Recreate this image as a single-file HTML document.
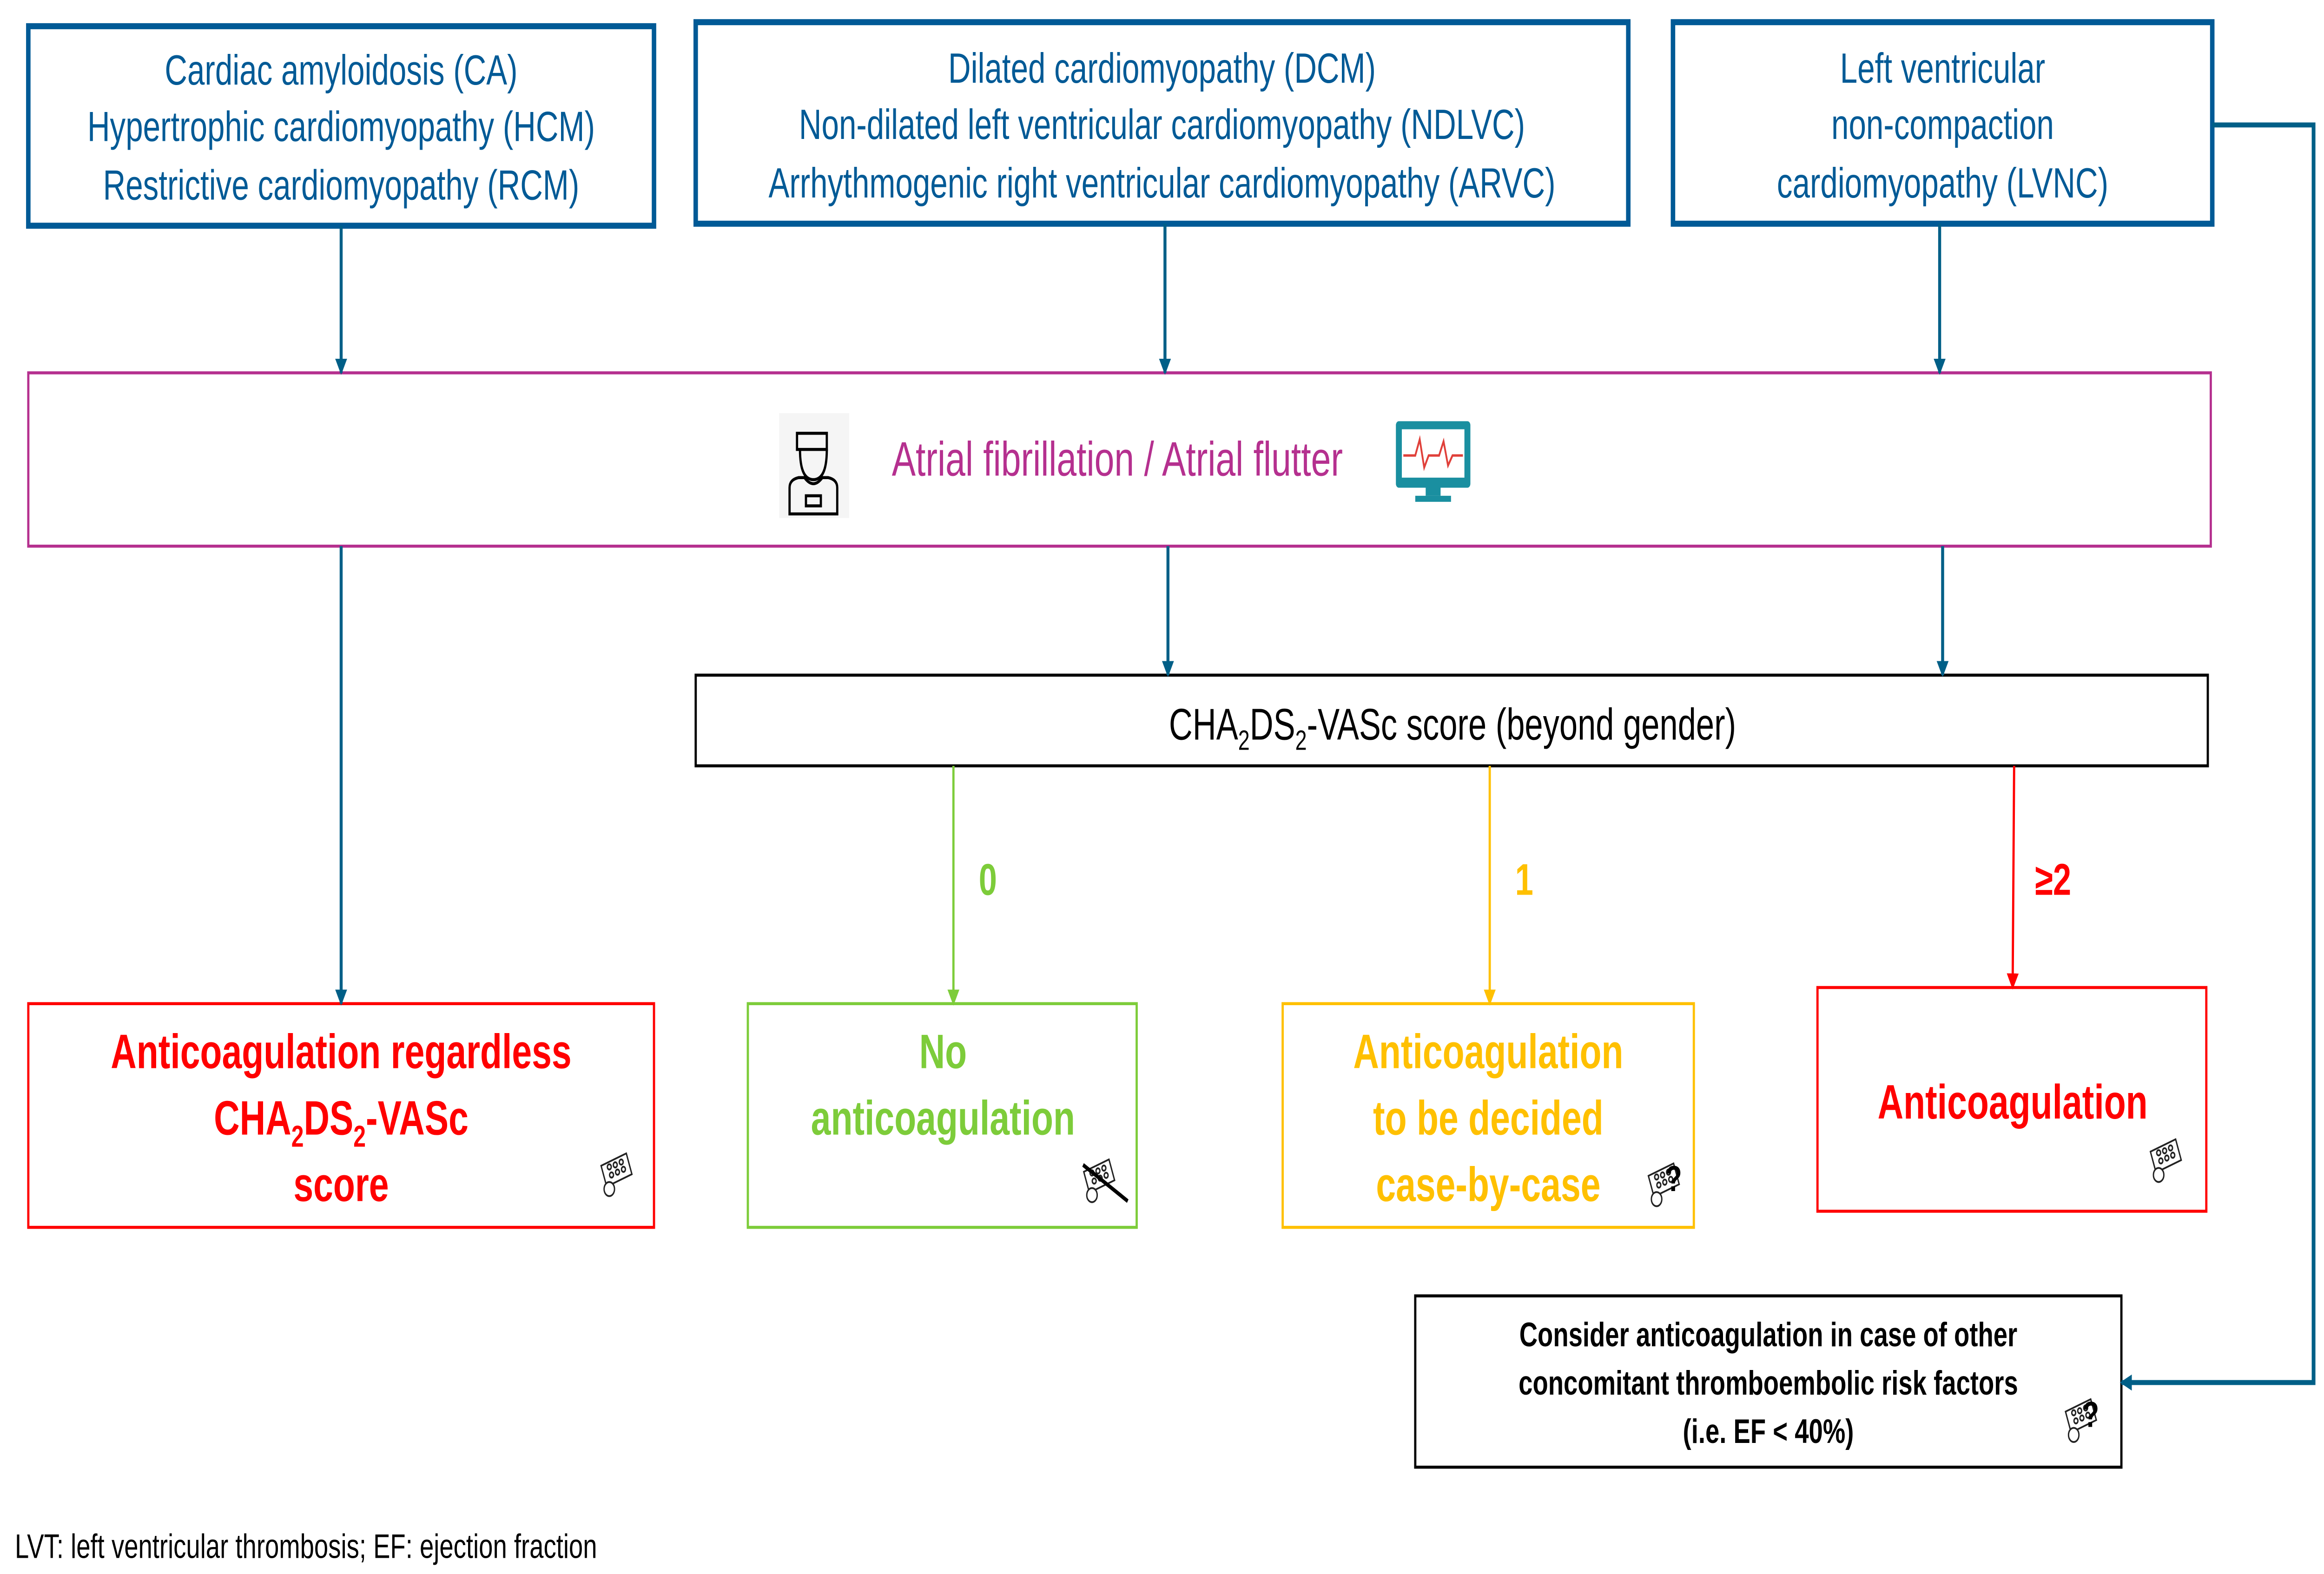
<!DOCTYPE html>
<html><head><meta charset="utf-8"><style>html,body{margin:0;padding:0;background:#fff;width:100%;height:100%;overflow:hidden}svg{display:block;position:absolute;left:0;top:0;width:100vw;height:100vh}</style></head>
<body>
<svg viewBox="0 0 1560 781" preserveAspectRatio="none" xmlns="http://www.w3.org/2000/svg" font-family="Liberation Sans, Arial, sans-serif">
<defs>
<marker id="ab" markerWidth="8" markerHeight="8" refX="7" refY="4" orient="auto" markerUnits="userSpaceOnUse"><path d="M0,0 L8,4 L0,8 z" fill="#005f87"/></marker>
<marker id="ag" markerWidth="8" markerHeight="8" refX="7" refY="4" orient="auto" markerUnits="userSpaceOnUse"><path d="M0,0 L8,4 L0,8 z" fill="#7dcc3a"/></marker>
<marker id="ay" markerWidth="8" markerHeight="8" refX="7" refY="4" orient="auto" markerUnits="userSpaceOnUse"><path d="M0,0 L8,4 L0,8 z" fill="#ffc000"/></marker>
<marker id="ar" markerWidth="8" markerHeight="8" refX="7" refY="4" orient="auto" markerUnits="userSpaceOnUse"><path d="M0,0 L8,4 L0,8 z" fill="#ff0000"/></marker>
<g id="pill" fill="none" stroke="#222" stroke-width="0.9">
<rect x="2" y="0" width="18" height="11" transform="rotate(-20 11 6)"/>
<circle cx="6" cy="4" r="1.3"/><circle cx="10" cy="3" r="1.3"/><circle cx="14" cy="1.6" r="1.3"/>
<circle cx="7.5" cy="8" r="1.3"/><circle cx="11.5" cy="6.6" r="1.3"/><circle cx="15.5" cy="5.2" r="1.3"/>
<circle cx="6" cy="15" r="3.5" fill="#fff"/>
</g>
</defs>
<g fill="none" stroke="#005a96" stroke-width="3">
<rect x="19" y="13" width="420" height="99"/>
<rect x="467" y="11" width="626" height="100"/>
<rect x="1123" y="11" width="362" height="100"/>
</g>
<rect x="19" y="185" width="1465" height="86" fill="none" stroke="#b5308f" stroke-width="1.5"/>
<rect x="467" y="335" width="1015" height="45" fill="none" stroke="#000" stroke-width="1.5"/>
<rect x="19" y="498" width="420" height="111" fill="none" stroke="#ff0000" stroke-width="1.5"/>
<rect x="502" y="498" width="261" height="111" fill="none" stroke="#7dcc3a" stroke-width="1.5"/>
<rect x="861" y="498" width="276" height="111" fill="none" stroke="#ffc000" stroke-width="1.5"/>
<rect x="1220" y="490" width="261" height="111" fill="none" stroke="#ff0000" stroke-width="1.5"/>
<rect x="950" y="643" width="474" height="85" fill="none" stroke="#000" stroke-width="1.5"/>
<g stroke="#005f87" stroke-width="2" fill="none">
<line x1="229" y1="112" x2="229" y2="185" marker-end="url(#ab)"/>
<line x1="782" y1="111" x2="782" y2="185" marker-end="url(#ab)"/>
<line x1="1302" y1="111" x2="1302" y2="185" marker-end="url(#ab)"/>
<line x1="229" y1="271" x2="229" y2="498" marker-end="url(#ab)"/>
<line x1="784" y1="271" x2="784" y2="335" marker-end="url(#ab)"/>
<line x1="1304" y1="271" x2="1304" y2="335" marker-end="url(#ab)"/>
<polyline points="1485,62 1553,62 1553,686 1424,686" stroke-width="2.5" marker-end="url(#ab)"/>
</g>
<line x1="640" y1="380" x2="640" y2="498" stroke="#7dcc3a" stroke-width="1.5" marker-end="url(#ag)"/>
<line x1="1000" y1="380" x2="1000" y2="498" stroke="#ffc000" stroke-width="1.5" marker-end="url(#ay)"/>
<line x1="1352" y1="380" x2="1351" y2="490" stroke="#ff0000" stroke-width="1.5" marker-end="url(#ar)"/>
<g fill="#005a96" font-size="21" text-anchor="middle">
<text x="229" y="42">Cardiac amyloidosis (CA)</text>
<text x="229" y="70">Hypertrophic cardiomyopathy (HCM)</text>
<text x="229" y="99">Restrictive cardiomyopathy (RCM)</text>
<text x="780" y="41">Dilated cardiomyopathy (DCM)</text>
<text x="780" y="69">Non-dilated left ventricular cardiomyopathy (NDLVC)</text>
<text x="780" y="98">Arrhythmogenic right ventricular cardiomyopathy (ARVC)</text>
<text x="1304" y="41">Left ventricular</text>
<text x="1304" y="69">non-compaction</text>
<text x="1304" y="98">cardiomyopathy (LVNC)</text>
</g>
<rect x="523" y="205" width="47" height="52" fill="#f5f5f5"/>
<g fill="none" stroke="#000" stroke-width="1.5">
<path d="M535,215 h20 v8 h-20 z"/><path d="M537,223 q0,15 9,15 q9,0 9,-15"/>
<path d="M530,255 v-13 q0,-4 6,-5 l4,0 q6,6 12,0 l4,0 q6,1 6,5 v13 z"/><rect x="541" y="246" width="10" height="5"/>
</g>
<text x="750" y="236" fill="#b5308f" font-size="24" text-anchor="middle">Atrial fibrillation / Atrial flutter</text>
<rect x="937" y="209" width="50" height="33" fill="#1a8fa0" rx="2"/>
<rect x="941" y="213" width="42" height="24" fill="#fff"/>
<polyline points="942,226 950,226 953,218 956,232 959,226 966,226 969,219 972,231 975,226 982,226" fill="none" stroke="#e0403a" stroke-width="1.2"/>
<rect x="957" y="242" width="10" height="4" fill="#1a8fa0"/><rect x="950" y="246" width="24" height="3" fill="#1a8fa0"/>
<text x="975" y="367" font-size="22" text-anchor="middle">CHA<tspan font-size="14" dy="5">2</tspan><tspan dy="-5">DS</tspan><tspan font-size="14" dy="5">2</tspan><tspan dy="-5">-VASc score (beyond gender)</tspan></text>
<g font-weight="bold" font-size="22">
<text x="657" y="444" fill="#7dcc3a">0</text>
<text x="1017" y="444" fill="#ffc000">1</text>
<text x="1366" y="444" fill="#ff0000">≥2</text>
</g>
<g font-weight="bold" font-size="24" text-anchor="middle">
<text x="229" y="530" fill="#ff0000">Anticoagulation regardless</text>
<text x="229" y="563" fill="#ff0000">CHA<tspan font-size="15" dy="6">2</tspan><tspan dy="-6">DS</tspan><tspan font-size="15" dy="6">2</tspan><tspan dy="-6">-VASc</tspan></text>
<text x="229" y="596" fill="#ff0000">score</text>
<text x="633" y="530" fill="#7dcc3a">No</text>
<text x="633" y="563" fill="#7dcc3a">anticoagulation</text>
<text x="999" y="530" fill="#ffc000">Anticoagulation</text>
<text x="999" y="563" fill="#ffc000">to be decided</text>
<text x="999" y="596" fill="#ffc000">case-by-case</text>
<text x="1351" y="555" fill="#ff0000">Anticoagulation</text>
</g>
<g font-weight="bold" font-size="17" text-anchor="middle">
<text x="1187" y="668">Consider anticoagulation in case of other</text>
<text x="1187" y="692">concomitant thromboembolic risk factors</text>
<text x="1187" y="716">(i.e. EF &lt; 40%)</text>
</g>
<use href="#pill" x="403" y="575"/>
<use href="#pill" x="727" y="578"/><line x1="727" y1="578" x2="757" y2="596" stroke="#000" stroke-width="2"/>
<use href="#pill" x="1106" y="580"/><text x="1118" y="591" font-weight="bold" font-size="18">?</text>
<use href="#pill" x="1443" y="568"/>
<use href="#pill" x="1386" y="697"/><text x="1398" y="708" font-weight="bold" font-size="18">?</text>
<text x="10" y="773" font-size="17">LVT: left ventricular thrombosis; EF: ejection fraction</text>
</svg>
</body></html>
